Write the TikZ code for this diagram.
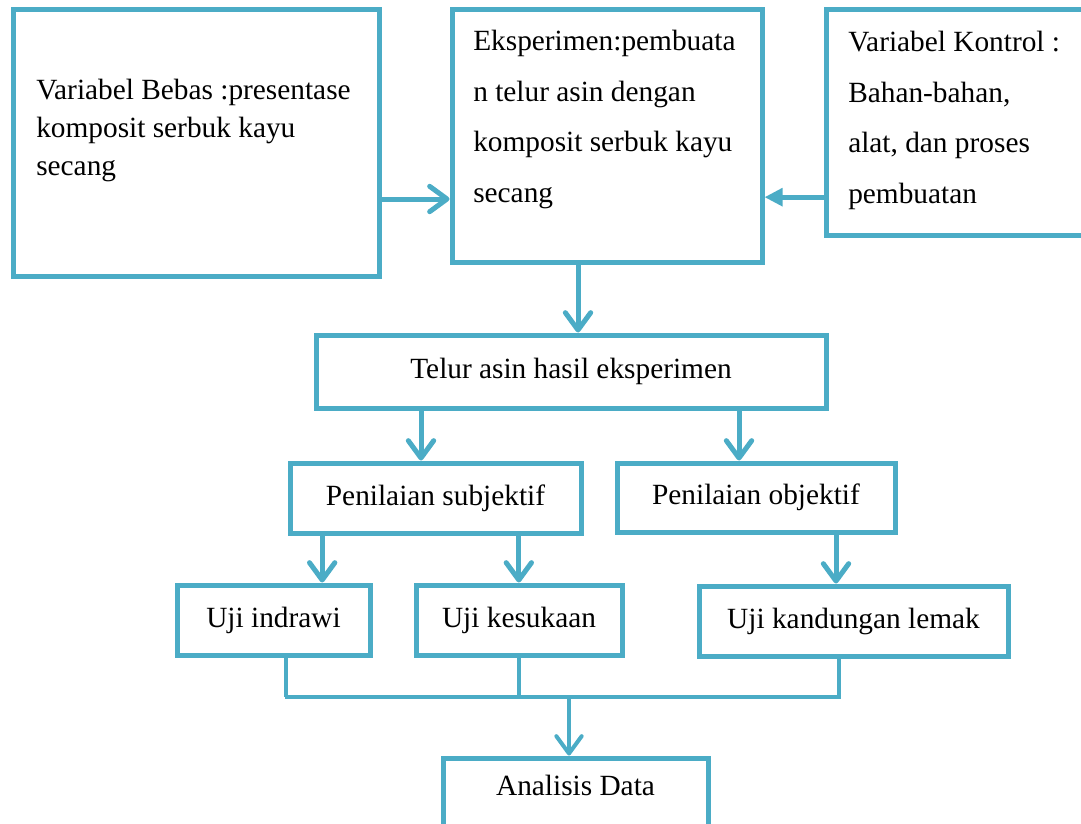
\documentclass[tikz,border=0pt]{standalone}
\usepackage{fontspec}
\setmainfont{Liberation Serif}
\usetikzlibrary{arrows.meta}
\definecolor{lineblue}{RGB}{75,172,198}
\tikzset{
  box/.style={draw=lineblue, line width=3.75pt, rectangle, inner sep=0pt,
    font=\fontsize{22}{38}\selectfont},
  txt/.style={inner sep=0pt, align=left, font=\fontsize{22}{38}\selectfont},
  flow/.style={draw=lineblue, line width=3.75pt,
    -{Straight Barb[length=13pt,width=19pt,round]}},
  flowfill/.style={draw=lineblue, line width=3.75pt,
    -{Triangle[length=13.5pt,width=13pt]}},
  stub/.style={draw=lineblue, line width=3pt},
}
\begin{document}
\begin{tikzpicture}[x=0.75pt,y=0.75pt,yscale=-1,xscale=1]
\useasboundingbox (0,0) rectangle (1081,824);
\clip (0,0) rectangle (1081,824);

%Shape: Rectangle
\node[box, minimum width=274.5pt, minimum height=199.5pt] (bebas) at (196,143) {};
\node[box, minimum width=232.5pt, minimum height=189pt] (eksp) at (607,136) {};
\node[box, minimum width=205.5pt, minimum height=168.75pt] (kontrol) at (963,122.5) {};

% Text Node
\node[txt, anchor=north west, font=\fontsize{22}{28.5}\selectfont] (bebastxt) at (36,79)
  {Variabel Bebas :presentase\\komposit serbuk kayu\\secang};
% Text Node
\node[txt, anchor=north west] (eksptxt) at (473,30)
  {Eksperimen:pembuata\\n telur asin dengan\\komposit serbuk kayu\\secang};
% Text Node
\node[txt, anchor=north west] (kontroltxt) at (848,31)
  {Variabel Kontrol :\\Bahan-bahan,\\alat, dan proses\\pembuatan};

%Shape: Rectangle
\node[box, minimum width=382.5pt, minimum height=54.75pt] (telur) at (571,371.5) {Telur asin hasil eksperimen};
\node[box, minimum width=218.25pt, minimum height=52.5pt] (subjektif) at (435.5,498) {Penilaian subjektif};
\node[box, minimum width=208.5pt, minimum height=51.75pt] (objektif) at (756,497.5) {Penilaian objektif};
\node[box, minimum width=144.75pt, minimum height=52.5pt] (indrawi) at (273.5,620) {Uji indrawi};
\node[box, minimum width=154.5pt, minimum height=52.5pt] (kesukaan) at (519,620) {Uji kesukaan};
\node[box, minimum width=231.75pt, minimum height=52.5pt] (kandungan) at (853.5,621) {Uji kandungan lemak};
\node[box, minimum width=198.75pt, text height=27.75pt, text depth=41.25pt] (analisis) at (575.5,804) {Analisis Data};

%Straight Lines
\draw[flow] ([yshift=42pt]bebas.east) -- ([yshift=42pt]bebas.east -| eksp.west);
\draw[flowfill] ([yshift=56pt]kontrol.west) -- ([yshift=56pt]kontrol.west -| eksp.east);
\draw[flow] ([xshift=-21.75pt]eksp.south) -- ([xshift=-21.75pt]eksp.south |- telur.north);
\draw[flow] ([xshift=-112.5pt]telur.south) -- ([xshift=-112.5pt]telur.south |- subjektif.north);
\draw[flow] ([xshift=126pt]telur.south) -- ([xshift=126pt]telur.south |- objektif.north);
\draw[flow] ([xshift=-85pt]subjektif.south) -- ([xshift=-85pt]subjektif.south |- indrawi.north);
\draw[flow] ([xshift=62.5pt]subjektif.south) -- ([xshift=62.5pt]subjektif.south |- kesukaan.north);
\draw[flow] ([xshift=60pt]objektif.south) -- ([xshift=60pt]objektif.south |- kandungan.north);

% join of the three tests
\coordinate (jl) at (285,697);
\coordinate (jr) at (841,697);
\coordinate (join) at (569,697);
\draw[stub] ([xshift=9.4pt]indrawi.south) -- ([xshift=9.4pt]indrawi.south |- jl);
\draw[stub] (kesukaan.south) -- (kesukaan.south |- jl);
\draw[stub] ([xshift=-10.9pt]kandungan.south) -- ([xshift=-10.9pt]kandungan.south |- jr);
\draw[stub] (jl) -- (jr);
\draw[flow, line width=3pt] (join) -- (join |- analisis.north);

\end{tikzpicture}
\end{document}
